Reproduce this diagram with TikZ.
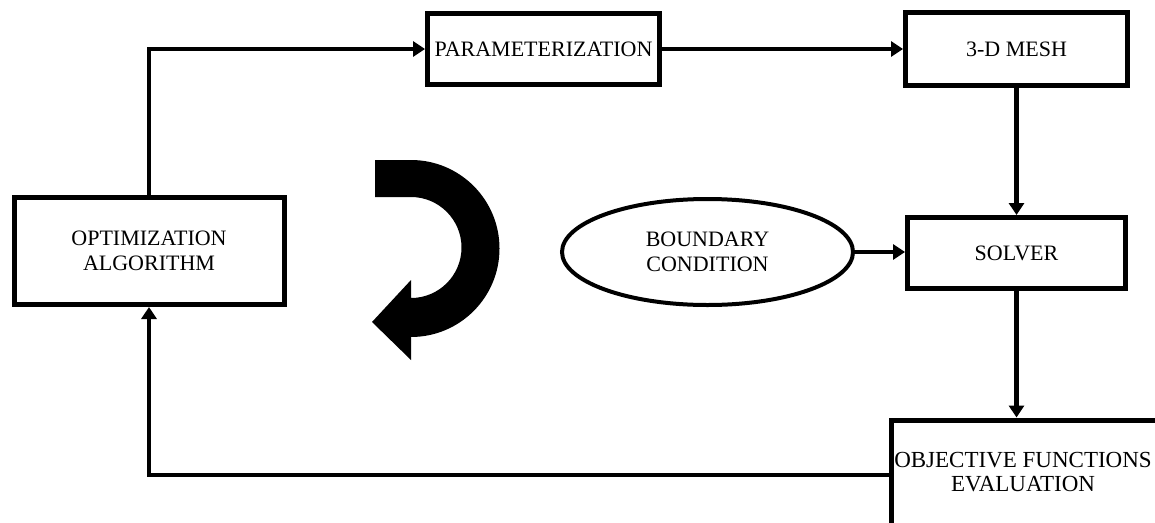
\documentclass[tikz,border=0pt]{standalone}
\usepackage{fontspec}
\setmainfont{Liberation Serif}
\usetikzlibrary{arrows.meta,shapes.geometric}
\begin{document}
\begin{tikzpicture}[x=1pt,y=-1pt,
  every node/.style={font=\fontsize{22}{25.5}\selectfont, align=center, inner sep=2pt},
  box/.style={draw, line width=5pt, rectangle},
  conn/.style={line width=4.5pt, -{Triangle[length=12pt,width=15pt]}},
  oval/.style={ellipse, draw, line width=4pt}]
\useasboundingbox (0,0) rectangle (1155,522);
\clip (0,0) rectangle (1155,522);
\node[box, minimum width=270pt, minimum height=107pt] (opt) at (149,251) {OPTIMIZATION\\ALGORITHM};
\node[box, minimum width=232pt, minimum height=71pt, inner sep=1pt] (param) at (543.5,49) {PARAMETERIZATION};
\node[box, minimum width=222pt, minimum height=73pt] (mesh) at (1016.5,49) {3-D MESH};
\node[box, minimum width=218pt, minimum height=71pt] (solver) at (1016.5,253) {SOLVER};
\node[oval, minimum width=291pt, minimum height=106pt] (bc) at (707.5,252) {BOUNDARY\\CONDITION};
\node[box, minimum width=300pt, minimum height=110pt, anchor=north west] (objbox) at (888.5,417.5) {};
\node[font=\fontsize{23}{24.5}\selectfont] (objtxt) at (1023,472) {OBJECTIVE FUNCTIONS\\EVALUATION};
\draw[conn] (opt.north) |- (param.west);
\draw[conn] (param.east) -- (mesh.west);
\draw[conn] (mesh.south) -- (solver.north);
\draw[conn] (bc.east) -- (bc.east -| solver.west);
\draw[conn] (solver.south) -- (solver.south |- objbox.north);
\draw[conn] (objbox.west) -| (opt.south);
\fill (375,160) -- (411,160) arc[start angle=-90, end angle=90, radius=88.5] -- (411,360) -- (372,322) -- (411,280) -- (411,298) arc[start angle=90, end angle=-90, radius=50.5] -- (375,197) -- cycle;
\end{tikzpicture}
\end{document}
